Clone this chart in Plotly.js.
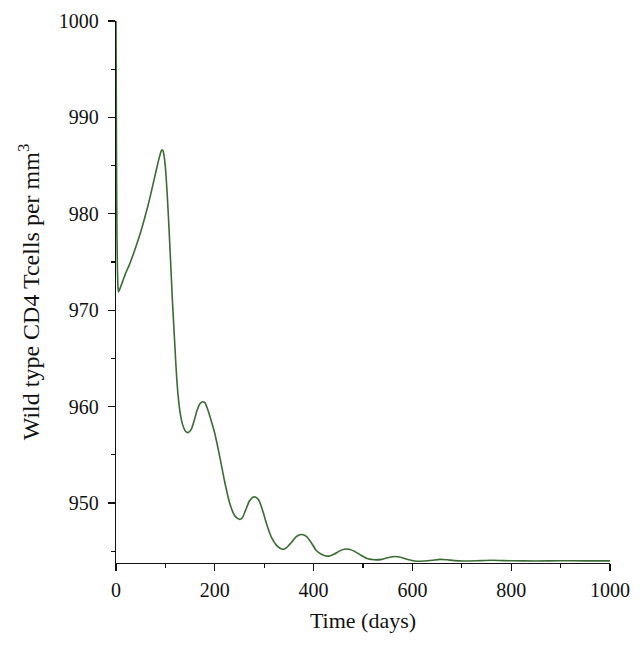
<!DOCTYPE html>
<html>
<head>
<meta charset="utf-8">
<script src="https://cdn.plot.ly/plotly-3.0.1.min.js"></script>
<style>html,body{margin:0;padding:0;background:#fff;}#chart{width:644px;height:647px;}</style>
</head>
<body>
<div id="chart"></div>
<script>
const timeDays = [0, 0.5, 1, 1.5, 2, 3, 4, 5, 7, 10, 15, 20, 27, 35, 45, 55, 65, 72, 80, 85,
  88, 91, 93, 95, 97, 100, 103, 106, 110, 114, 118, 121, 123, 126, 130, 135, 140, 146, 152, 158,
  164, 170, 175, 180, 185, 190, 200, 210, 220, 230, 240, 246, 251, 256, 262, 270, 277, 283, 289, 297,
  305, 315, 325, 332, 339, 346, 355, 365, 372, 379, 386, 395, 405, 415, 425, 433, 442, 452, 462, 472,
  482, 495, 510, 524, 538, 552, 565, 578, 593, 609, 625, 640, 656, 670, 685, 702, 730, 760, 800, 850,
  900, 950, 1000];
const cd4Cells = [1000, 993, 986, 981, 977.5, 974, 972.4, 971.9, 972.1, 972.5, 973.2, 973.9, 974.7, 975.8, 977.3, 979.0, 980.9, 982.4, 984.2, 985.3,
  985.9, 986.45, 986.65, 986.55, 986.1, 984.8, 982.6, 979.8, 975.6, 971.2, 967.4, 964.6, 962.9, 961.0, 959.3, 958.1, 957.5, 957.3, 957.6, 958.5,
  959.6, 960.3, 960.5, 960.4, 959.8, 959.0, 957.2, 954.8, 952.2, 950.0, 948.7, 948.4, 948.3, 948.5, 949.2, 950.2, 950.6, 950.6, 950.3, 949.2,
  947.8, 946.4, 945.6, 945.3, 945.2, 945.4, 945.9, 946.5, 946.7, 946.7, 946.5, 945.9, 945.1, 944.7, 944.5, 944.5, 944.7, 945.0, 945.2, 945.2,
  945.0, 944.6, 944.2, 944.1, 944.15, 944.35, 944.45, 944.35, 944.1, 943.95, 943.98, 944.05, 944.15, 944.1, 944.02, 943.98, 944.0, 944.05, 944.0, 943.98,
  944.0, 943.99, 943.99];
const xTickVals = [0, 200, 400, 600, 800, 1000];
const yTickVals = [950, 960, 970, 980, 990, 1000];

const family = '"Liberation Serif", "Times New Roman", serif';
const tickFont = {family: family, size: 20, color: '#111'};
const titleFont = {family: family, size: 22, color: '#111'};
const yTitleFont = {family: family, size: 24, color: '#111'};

Plotly.newPlot('chart', [{
  x: timeDays, y: cd4Cells, type: 'scatter', mode: 'lines',
  line: {color: '#3b6b34', width: 1.6, shape: 'spline', smoothing: 0.6},
  hoverinfo: 'skip'
}], {
  width: 644, height: 647,
  margin: {l: 116, r: 34, t: 21, b: 84},
  paper_bgcolor: '#fff', plot_bgcolor: '#fff',
  showlegend: false,
  font: tickFont,
  xaxis: {
    range: [0, 1000], showline: true, linecolor: '#111', linewidth: 1.2, mirror: false,
    showgrid: false, zeroline: false,
    tickmode: 'array', tickvals: xTickVals,
    ticks: 'outside', ticklen: 7, tickwidth: 1.2, tickcolor: '#111',
    minor: {dtick: 100, tick0: 0, ticks: 'outside', ticklen: 4, tickwidth: 1.2, tickcolor: '#111', showgrid: false},
    tickfont: tickFont, ticklabelstandoff: 2,
    title: {text: 'Time (days)', font: titleFont, standoff: 12},
    automargin: false
  },
  yaxis: {
    range: [943.77, 1000], showline: true, linecolor: '#111', linewidth: 1.2, mirror: false,
    showgrid: false, zeroline: false,
    tickmode: 'array', tickvals: yTickVals,
    ticks: 'outside', ticklen: 7, tickwidth: 1.2, tickcolor: '#111',
    minor: {dtick: 5, tick0: 0, ticks: 'outside', ticklen: 4, tickwidth: 1.2, tickcolor: '#111', showgrid: false},
    tickfont: tickFont, ticklabelstandoff: 5,
    title: {text: 'Wild type CD4 Tcells per mm<sup>3</sup>', font: yTitleFont, standoff: 12},
    automargin: false
  }
}, {displayModeBar: false, staticPlot: true});
</script>
</body>
</html>
